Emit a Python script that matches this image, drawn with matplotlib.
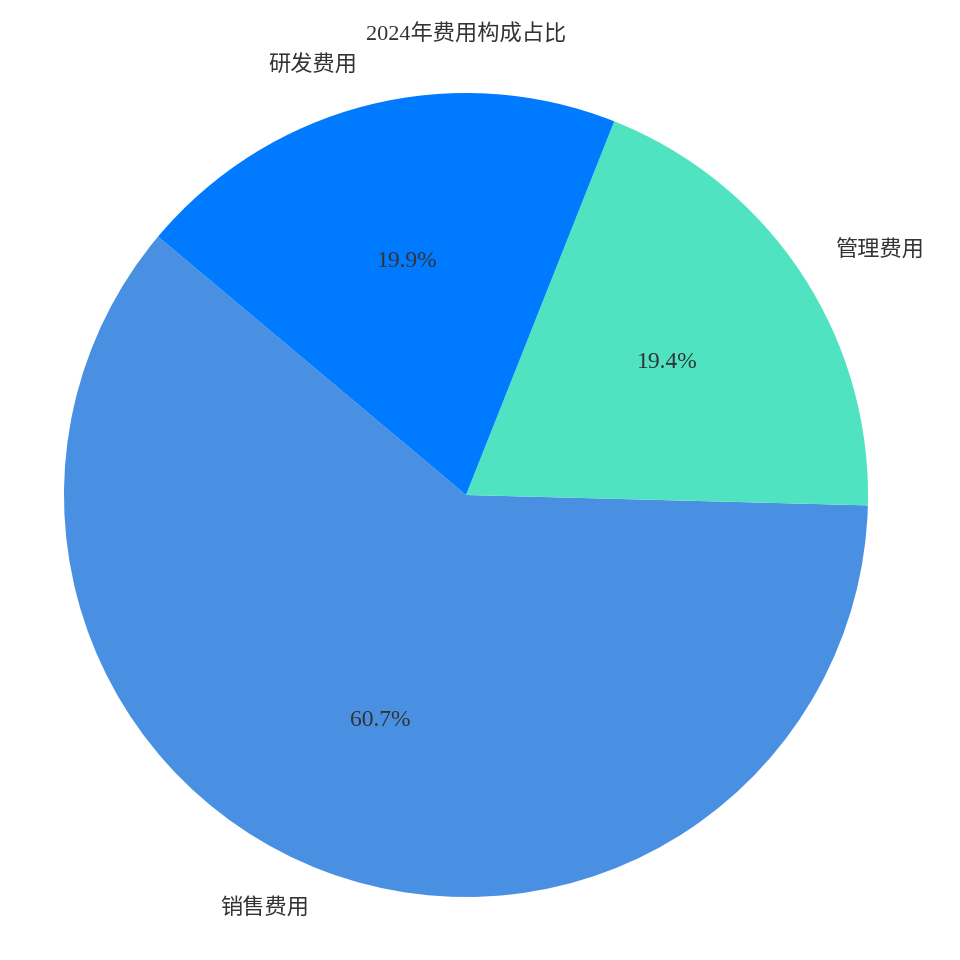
import matplotlib
matplotlib.use('Agg')
import matplotlib.pyplot as plt

plt.rcParams['font.family'] = ['Liberation Serif', 'Noto Sans CJK SC', 'DejaVu Sans']

labels = ['销售费用', '管理费用', '研发费用']
values = [60.7, 19.4, 19.9]
colors = ['#4A90E2', '#50E3C2', '#007AFF']
title = '2024年费用构成占比'

fig = plt.figure(figsize=(9.6, 9.6), dpi=100)
cx, cy, r = 466, 960 - 495, 402
ax = fig.add_axes([(cx - r) / 960, (cy - r) / 960, 2 * r / 960, 2 * r / 960])

wedges, texts, autotexts = ax.pie(values, labels=labels, colors=colors,
                                  autopct='%1.1f%%', startangle=140,
                                  pctdistance=0.6, labeldistance=1.1,
                                  textprops={'fontsize': 16, 'color': '#333333'})
for t in autotexts:
    t.set_fontsize(17)
ax.set_xlim(-1, 1)
ax.set_ylim(-1, 1)
ax.set_aspect('equal')

fig.text(cx / 960, 1 - 35 / 960, title, ha='center', va='center',
         fontsize=16, color='#333333')

fig.savefig('out.png', dpi=100)
